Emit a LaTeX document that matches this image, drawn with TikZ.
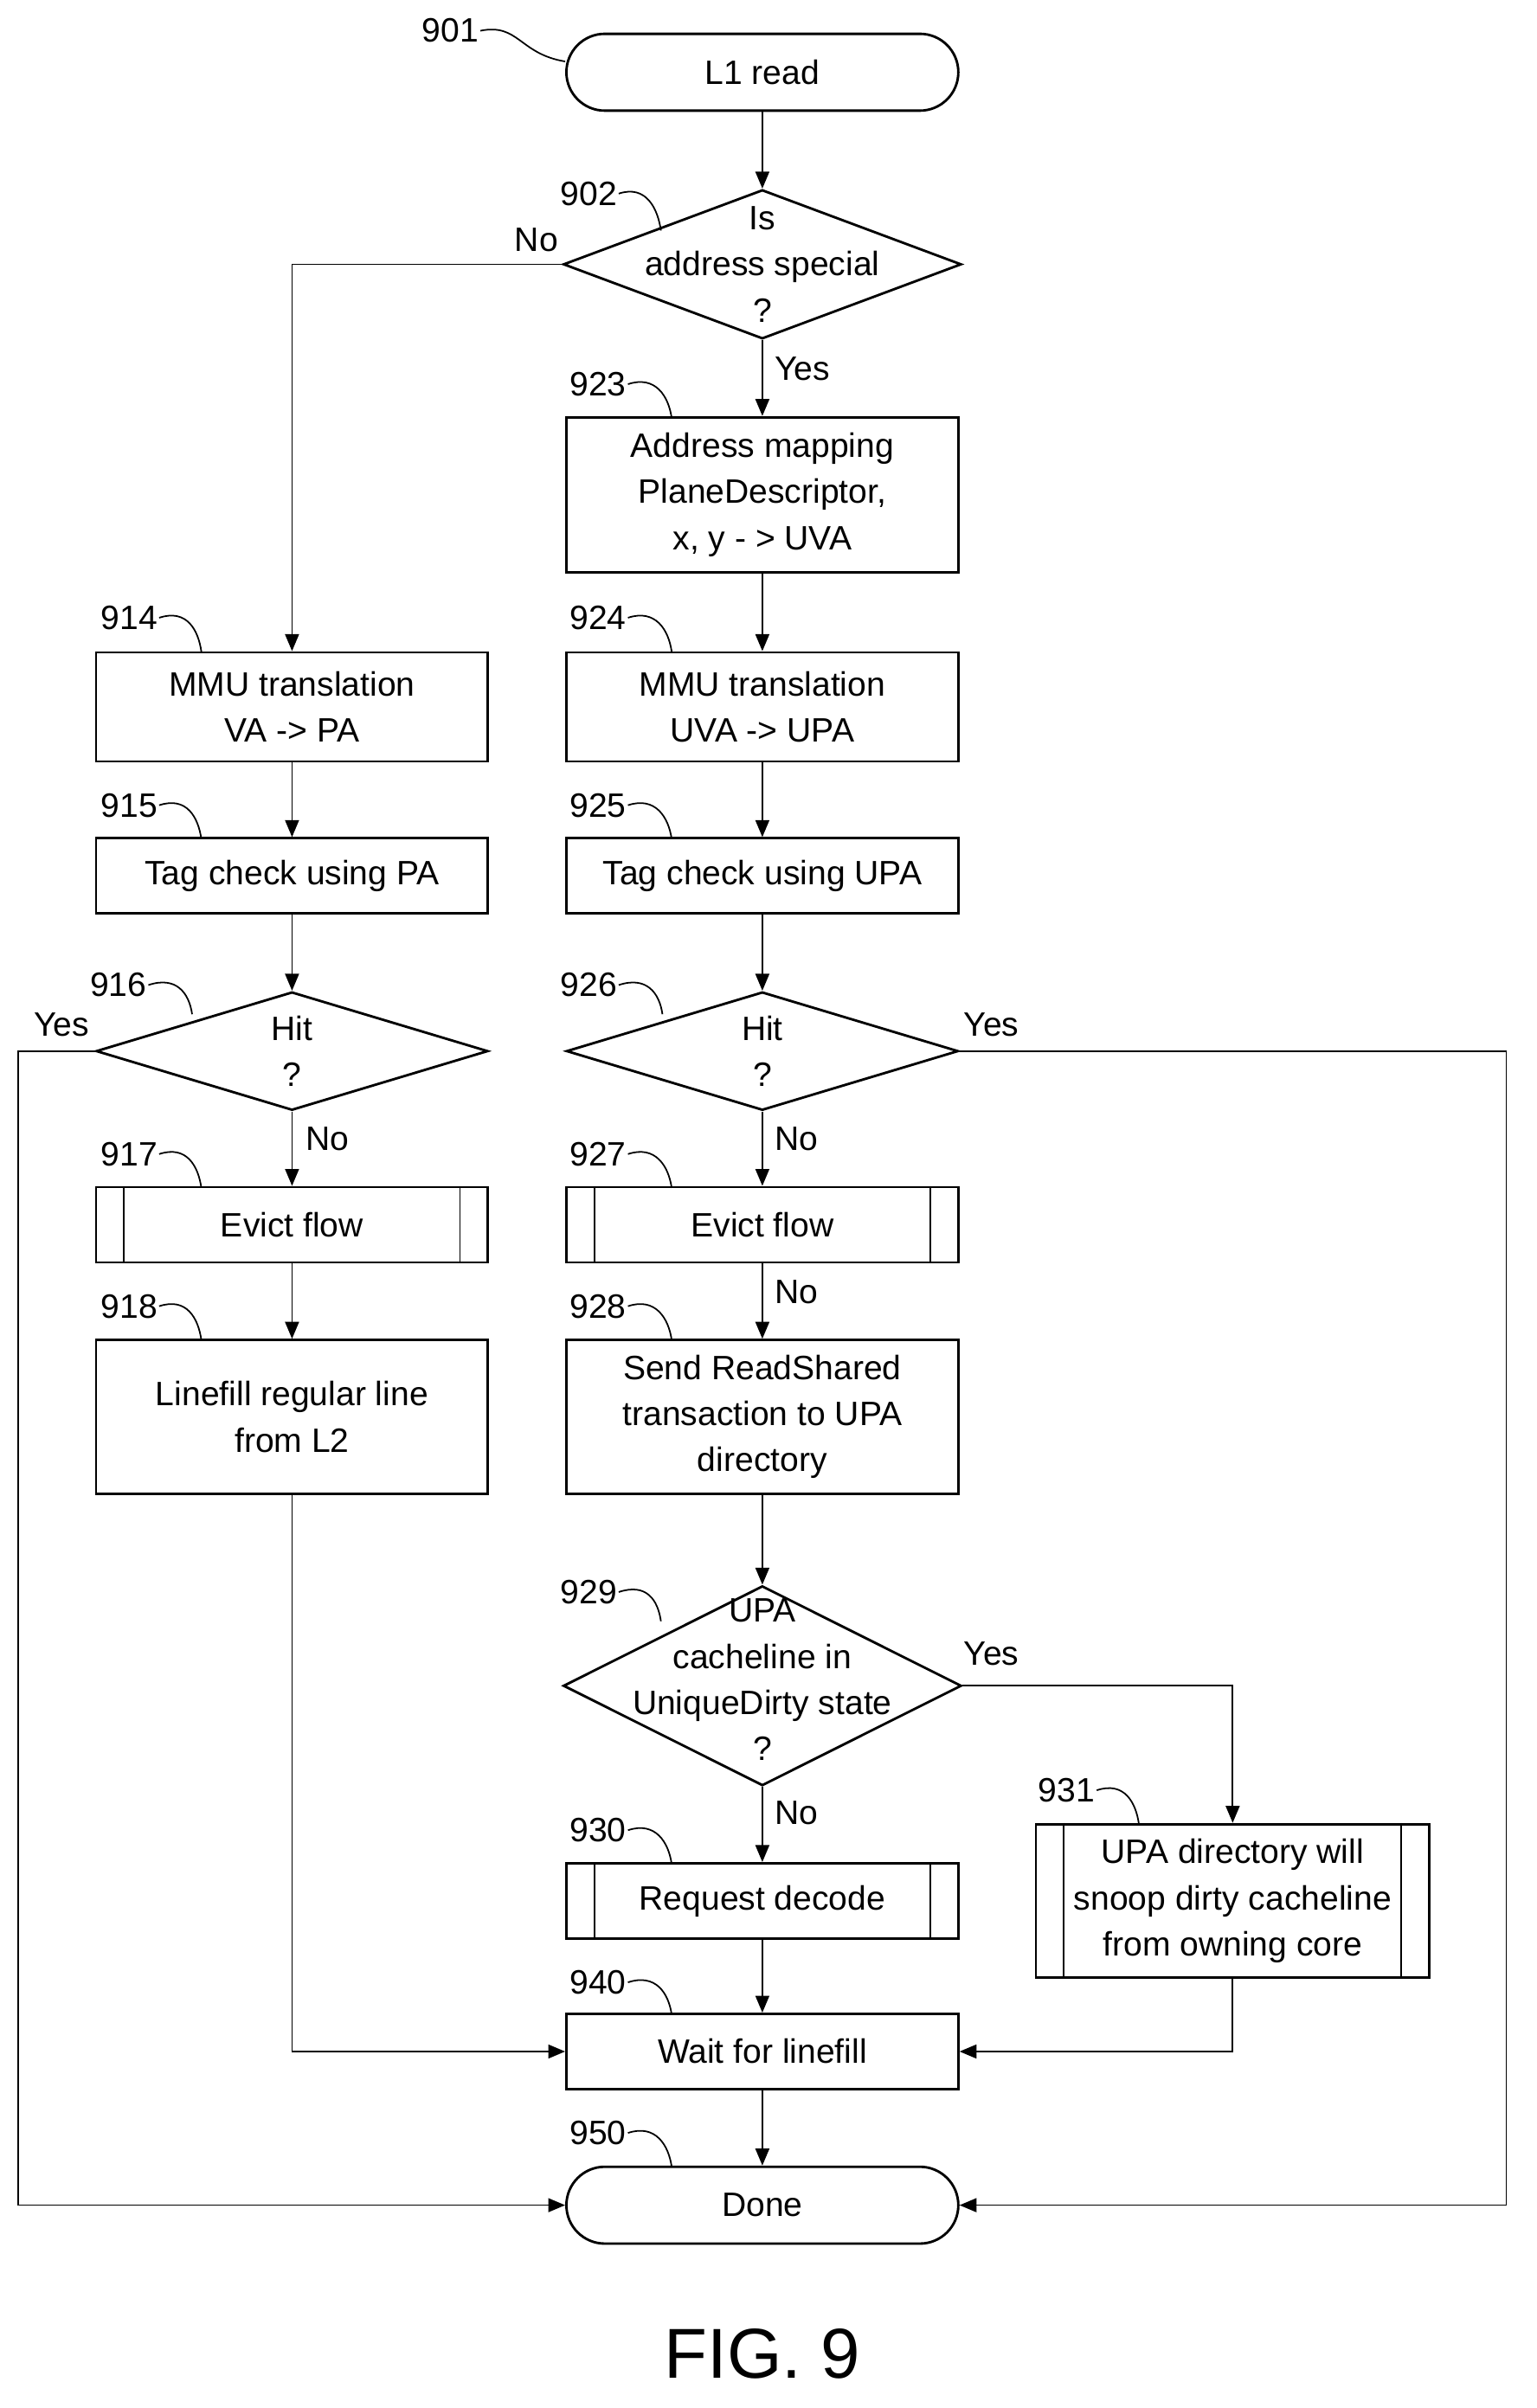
\documentclass[tikz,border=0pt]{standalone}
\usepackage{fontspec}
\setmainfont{Liberation Sans}
\usetikzlibrary{shapes.geometric,arrows.meta}
\begin{document}
\begin{tikzpicture}[x=1pt,y=-1pt,
  every node/.style={font=\fontsize{22}{30}\selectfont},
  box/.style={draw,line width=1.6pt,minimum width=255pt,align=center,inner sep=0pt},
  term/.style={box,rounded corners=25pt,minimum height=50pt},
  dia/.style={draw,line width=1.6pt,diamond,inner sep=0pt,minimum width=259pt},
  arr/.style={line width=1pt,-{Triangle[length=11pt,width=9pt]}},
  ln/.style={line width=1pt},
  lead/.style={line width=1pt},
  num/.style={inner sep=1pt}]
\useasboundingbox (0,0) rectangle (1000,1567);
% nodes
\node[term] (n901) at (496,47) {L1 read};
\node[dia,minimum height=97pt] (n902) at (496,172) {};
\node[align=center] at (496,172) {Is\\address special\\?};
\node[box,minimum height=101pt] (n923) at (496,322) {Address mapping\\PlaneDescriptor,\\x, y - > UVA};
\node[box,minimum height=71pt] (n914) at (190,460) {MMU translation\\VA -> PA};
\node[box,minimum height=71pt] (n924) at (496,460) {MMU translation\\UVA -> UPA};
\node[box,minimum height=49pt] (n915) at (190,570) {Tag check using PA};
\node[box,minimum height=49pt] (n925) at (496,570) {Tag check using UPA};
\node[dia,minimum width=255pt,minimum height=77pt] (n916) at (190,684) {};
\node[align=center] at (190,684) {Hit\\?};
\node[dia,minimum width=255pt,minimum height=77pt] (n926) at (496,684) {};
\node[align=center] at (496,684) {Hit\\?};
\node[box,minimum height=49pt] (n917) at (190,797) {Evict flow};
\node[box,minimum height=49pt] (n927) at (496,797) {Evict flow};
\node[box,minimum height=100pt] (n918) at (190,922) {Linefill regular line\\from L2};
\node[box,minimum height=100pt] (n928) at (496,922) {Send ReadShared\\transaction to UPA\\directory};
\node[dia,minimum height=130pt] (n929) at (496,1097) {};
\node[align=center] at (496,1093) {UPA\\cacheline in\\UniqueDirty state\\?};
\node[box,minimum height=49pt] (n930) at (496,1237) {Request decode};
\node[box,minimum width=256pt,minimum height=100pt] (n931) at (802,1237) {UPA directory will\\snoop dirty cacheline\\from owning core};
\node[box,minimum height=49pt] (n940) at (496,1335) {Wait for linefill};
\node[term] (n950) at (496,1435) {Done};
\node[font=\fontsize{46}{50}\selectfont] (fig) at (496,1532) {FIG. 9};
% predefined-process inner lines
\foreach \n in {n917,n927,n930}{
  \draw[line width=1pt] ([xshift=19pt]\n.north west) -- ([xshift=19pt]\n.south west);
  \draw[line width=1pt] ([xshift=-19pt]\n.north east) -- ([xshift=-19pt]\n.south east);}
\draw[line width=1pt] ([xshift=19pt]n931.north west) -- ([xshift=19pt]n931.south west);
\draw[line width=1pt] ([xshift=-19pt]n931.north east) -- ([xshift=-19pt]n931.south east);
% connectors
\draw[arr] (n901) -- (n902);
\draw[arr] (n902.west) -| (n914.north);
\node at (349,156) {No};
\draw[arr] (n902) -- (n923);
\node at (522,240) {Yes};
\draw[arr] (n923) -- (n924);
\draw[arr] (n914) -- (n915);
\draw[arr] (n924) -- (n925);
\draw[arr] (n915) -- (n916);
\draw[arr] (n925) -- (n926);
\coordinate (l1) at (12,684); \coordinate (l2) at (12,1435);
\draw[arr] (n916.west) -- (l1) -- (l2) -- (n950.west);
\node at (40,667) {Yes};
\coordinate (r1) at (980,684); \coordinate (r2) at (980,1435);
\draw[arr] (n926.east) -- (r1) -- (r2) -- (n950.east);
\node at (645,667) {Yes};
\draw[arr] (n916) -- (n917);
\node at (213,741) {No};
\draw[arr] (n926) -- (n927);
\node at (518,741) {No};
\draw[arr] (n917) -- (n918);
\draw[arr] (n927) -- (n928);
\node at (518,841) {No};
\coordinate (c918) at (190,1335);
\draw[arr] (n918.south) -- (c918) -- (n940.west);
\draw[arr] (n928) -- (n929);
\draw[arr] (n929.east) -| (n931.north);
\node at (645,1076) {Yes};
\draw[arr] (n929) -- (n930);
\node at (518,1180) {No};
\draw[arr] (n930) -- (n940);
\draw[arr] (n931.south) |- (n940.east);
\draw[arr] (n940) -- (n950);
% reference numerals with leaders
\node[num] (t901) at (293,20) {901};
\draw[lead] (t901.east) .. controls +(25,-5) and +(-30,-5) .. (n901.west |- 0,40);
\foreach \t/\x/\y/\ex/\ey in {902/383/126/430/150, 923/389/250/437/272, 914/84/402/131/424,
  924/389/402/437/424, 915/84/524/131/546, 925/389/524/437/546, 916/77/641/125/660,
  926/383/641/431/660, 917/84/751/131/773, 927/389/751/437/773, 918/84/850/131/872,
  928/389/850/437/872, 929/383/1036/430/1055, 930/389/1191/437/1213, 931/694/1165/741/1187,
  940/389/1290/437/1311, 950/389/1388/437/1410}{
  \node[num] (t\t) at (\x,\y) {\t};
  \coordinate (e\t) at (\ex,\ey);
  \draw[lead] (t\t.east) .. controls +(18,-6) and +(-2,-14) .. (e\t);}
\end{tikzpicture}
\end{document}
